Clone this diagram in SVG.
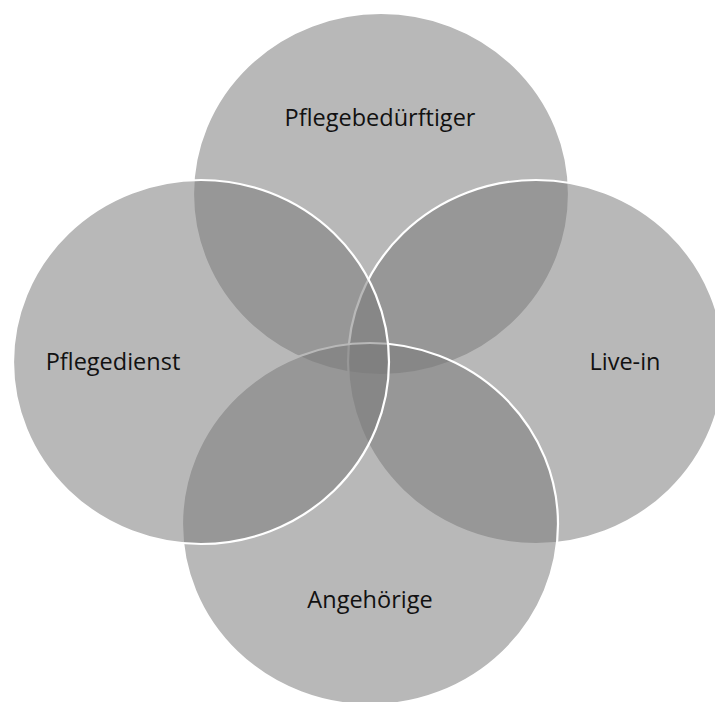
<svg xmlns="http://www.w3.org/2000/svg" width="715" height="702" viewBox="0 0 715 702">
<style>
.c{fill:rgb(122,122,122);fill-opacity:0.534;stroke:#fff;stroke-width:2.2}
.t{font-family:"Open Sans","Liberation Sans",sans-serif;font-size:23.5px;fill:#111;text-anchor:middle}
</style>
<rect width="715" height="702" fill="#fff"/>
<g id="top"><ellipse class="c" cx="381" cy="194" rx="188" ry="181"/></g>
<g id="right"><ellipse class="c" cx="536" cy="362" rx="188" ry="182"/></g>
<g id="bottom"><ellipse class="c" cx="370" cy="524" rx="188" ry="181"/></g>
<g id="left"><ellipse class="c" cx="201" cy="362" rx="188" ry="182"/></g>
<g id="labels">
<text class="t" x="380" y="126">Pflegebedürftiger</text>
<text class="t" x="113" y="370">Pflegedienst</text>
<text class="t" x="625" y="370">Live-in</text>
<text class="t" x="370" y="608">Angehörige</text>
</g>
<g id="connectors"/>
</svg>
